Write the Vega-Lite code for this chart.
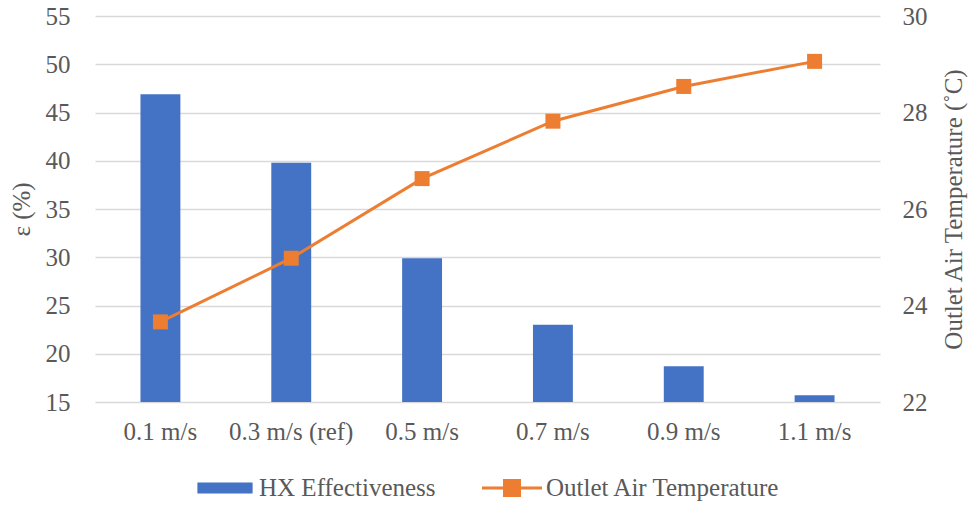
{
  "$schema": "https://vega.github.io/schema/vega-lite/v6.json",
  "width": 785,
  "height": 386,
  "autosize": {"type": "none"},
  "padding": {"left": 95, "top": 16, "right": 92, "bottom": 104},
  "background": "white",
  "config": {
    "view": {"stroke": null},
    "font": "'Liberation Serif', 'Times New Roman', 'DejaVu Serif', serif",
    "axis": {
      "labelFont": "'Liberation Serif', 'Times New Roman', 'DejaVu Serif', serif",
      "titleFont": "'Liberation Serif', 'Times New Roman', 'DejaVu Serif', serif",
      "labelFontSize": 25,
      "titleFontSize": 25,
      "labelColor": "#595959",
      "titleColor": "#595959",
      "titleFontWeight": "normal",
      "domain": false,
      "ticks": false,
      "gridColor": "#d9d9d9",
      "gridWidth": 1.5
    },
    "legend": {"layout": {"bottom": {"anchor": "middle"}}}
  },
  "data": {
    "values": [
      {"speed": "0.1 m/s", "eff": 46.9, "temp": 23.66},
      {"speed": "0.3 m/s (ref)", "eff": 39.8, "temp": 24.98},
      {"speed": "0.5 m/s", "eff": 29.9, "temp": 26.63},
      {"speed": "0.7 m/s", "eff": 23.0, "temp": 27.82},
      {"speed": "0.9 m/s", "eff": 18.7, "temp": 28.54},
      {"speed": "1.1 m/s", "eff": 15.7, "temp": 29.06}
    ]
  },
  "encoding": {
    "x": {
      "field": "speed",
      "type": "nominal",
      "sort": null,
      "scale": {"paddingInner": 0.695, "paddingOuter": 0.3475},
      "axis": {"title": null, "labelAngle": 0, "labelPadding": 17, "grid": false}
    }
  },
  "layer": [
    {
      "mark": {"type": "bar"},
      "encoding": {
        "y": {
          "field": "eff",
          "type": "quantitative",
          "scale": {"domain": [15, 55], "zero": false, "nice": false},
          "axis": {"title": "ε (%)", "values": [15, 20, 25, 30, 35, 40, 45, 50, 55], "labelPadding": 25, "titlePadding": 11, "grid": true}
        },
        "y2": {"datum": 15},
        "color": {
          "datum": "HX Effectiveness",
          "scale": {"domain": ["HX Effectiveness", "Outlet Air Temperature"], "range": ["#4472C4", "#ED7D31"]},
          "legend": {
            "orient": "bottom",
            "direction": "horizontal",
            "title": null,
            "symbolSize": 3600,
            "labelFont": "'Liberation Serif', 'Times New Roman', 'DejaVu Serif', serif",
            "labelFontSize": 25,
            "labelColor": "#595959",
            "labelLimit": 500,
            "labelOffset": 4,
            "columnPadding": 46,
            "offset": 14,
            "encode": {
              "symbols": {
                "update": {
                  "shape": {"signal": "datum.value === 'HX Effectiveness' ? 'M-0.92,-0.18H0.92V0.18H-0.92Z' : 'M-1,-0.05H1V0.05H-1Z M-0.3,-0.3H0.3V0.3H-0.3Z'"},
                  "fill": {"signal": "datum.value === 'HX Effectiveness' ? '#4472C4' : '#ED7D31'"},
                  "stroke": {"value": "transparent"},
                  "strokeWidth": {"value": 0},
                  "opacity": {"value": 1}
                }
              }
            }
          }
        }
      }
    },
    {
      "encoding": {
        "y": {
          "field": "temp",
          "type": "quantitative",
          "scale": {"domain": [22, 30], "zero": false, "nice": false},
          "axis": {"orient": "right", "title": "Outlet Air Temperature (˚C)", "values": [22, 24, 26, 28, 30], "labelPadding": 22, "titlePadding": 14, "titleAngle": 270, "titleBaseline": "top", "grid": false}
        },
        "color": {"datum": "Outlet Air Temperature"}
      },
      "layer": [
        {"mark": {"type": "line", "strokeWidth": 3}},
        {"mark": {"type": "point", "shape": "square", "filled": true, "size": 225, "opacity": 1}}
      ]
    }
  ],
  "resolve": {"scale": {"y": "independent"}}
}
